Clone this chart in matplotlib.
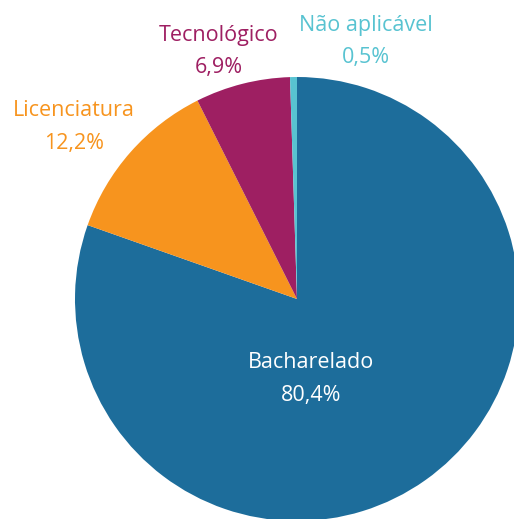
import matplotlib.pyplot as plt

categories = ["Bacharelado", "Licenciatura", "Tecnológico", "Não aplicável"]
values = [80.4, 12.2, 6.9, 0.5]
pct_labels = ["80,4%", "12,2%", "6,9%", "0,5%"]
colors = ["#1d6d9b", "#f7941e", "#9e1f62", "#58c3d1"]
text_colors = ["white", "#f7941e", "#9e1f62", "#58c3d1"]

W, H = 514, 519
CX, CY, R = 297, 299, 222


def to_data(px, py):
    return (px - CX) / R, (CY - py) / R


# label positions in pixels: (x center, y of name, y of percent)
label_pos = [(311, 362, 396), (74, 110, 143), (219, 35, 68), (366, 25, 58)]

fig = plt.figure(figsize=(W / 100, H / 100), dpi=100)
ax = fig.add_axes([0, 0, 1, 1])
ax.pie(values, colors=colors, startangle=90, counterclock=False, radius=1,
       wedgeprops=dict(linewidth=0))
x0, y0 = to_data(0, 0)
x1, y1 = to_data(W, H)
ax.set_xlim(x0, x1)
ax.set_ylim(y1, y0)
ax.set_aspect("auto")
ax.set_axis_off()

for cat, pct, col, (px, py1, py2) in zip(categories, pct_labels, text_colors, label_pos):
    x, y = to_data(px, py1)
    ax.text(x, y, cat, ha="center", va="center", color=col,
            fontsize=15.5, family="Open Sans")
    x, y = to_data(px, py2)
    ax.text(x, y, pct, ha="center", va="center", color=col,
            fontsize=15.5, family="Open Sans")

fig.savefig("out.png", dpi=100)
